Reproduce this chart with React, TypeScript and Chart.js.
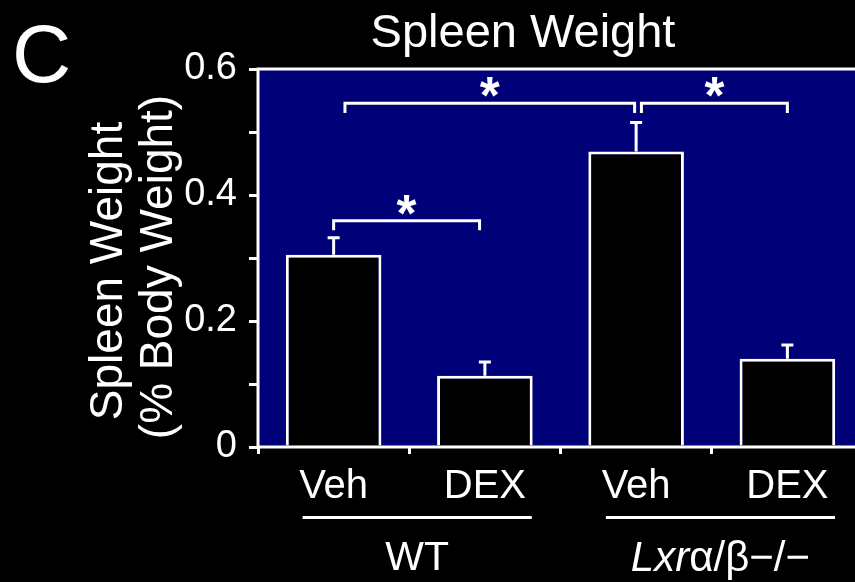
import React, { useEffect, useRef } from 'react';
import { Chart, registerables } from 'chart.js';

Chart.register(...registerables);

// ---- data ----
const categories = ['Veh', 'DEX', 'Veh', 'DEX'];
const means = [0.305, 0.113, 0.469, 0.14];
const errors = [0.027, 0.022, 0.046, 0.022];
const yTickLabels = [0, 0.2, 0.4, 0.6];
const groupLabels = ['WT', 'Lxr'];
const groupSuffix = ['', 'α/β−/−'];
// significance brackets (category positions, value levels)
const bracketFrom = [0, 0.075, 2.035];
const bracketTo = [0.965, 1.99, 3.0];
const bracketLevel = [0.359, 0.5455, 0.5455];
const bracketTip = [0.344, 0.53, 0.53];
const bracketMark = ['*', '*', '*'];

const FONT = '"Liberation Sans", Arial, Helvetica, sans-serif';
const WHITE = '#ffffff';
const PLOT_BG = '#000078';

function drawStar(ctx: CanvasRenderingContext2D, text: string, cx: number, cy: number, inkW: number) {
  ctx.font = `bold 100px ${FONT}`;
  const m = ctx.measureText(text);
  const w = m.actualBoundingBoxLeft + m.actualBoundingBoxRight;
  const size = (100 * inkW) / (w || 1);
  ctx.font = `bold ${size}px ${FONT}`;
  const m2 = ctx.measureText(text);
  const left = m2.actualBoundingBoxLeft;
  const right = m2.actualBoundingBoxRight;
  const asc = m2.actualBoundingBoxAscent;
  const desc = m2.actualBoundingBoxDescent;
  ctx.textAlign = 'left';
  ctx.textBaseline = 'alphabetic';
  ctx.fillText(text, cx - (right - left) / 2, cy + (asc - desc) / 2);
}

const overlay = {
  id: 'overlay',
  beforeDraw(chart: any) {
    const { ctx, chartArea: a } = chart;
    ctx.save();
    ctx.fillStyle = '#000';
    ctx.fillRect(0, 0, chart.width, chart.height);
    ctx.fillStyle = PLOT_BG;
    ctx.fillRect(a.left, a.top, a.right - a.left, a.bottom - a.top);
    ctx.restore();
  },
  afterDatasetsDraw(chart: any) {
    const { ctx, chartArea: a } = chart;
    const x = chart.scales.x;
    const y = chart.scales.y;
    ctx.save();
    ctx.strokeStyle = WHITE;
    ctx.fillStyle = WHITE;
    ctx.lineWidth = 3;
    ctx.lineCap = 'butt';
    // frame
    ctx.beginPath();
    ctx.moveTo(a.left, a.bottom + 1.5);
    ctx.lineTo(a.left, a.top);
    ctx.lineTo(a.right, a.top);
    ctx.moveTo(a.left - 1.5, a.bottom);
    ctx.lineTo(a.right, a.bottom);
    ctx.stroke();
    // error bars
    const meta = chart.getDatasetMeta(0);
    meta.data.forEach((bar: any, i: number) => {
      const yb = y.getPixelForValue(means[i]);
      const yt = y.getPixelForValue(means[i] + errors[i]);
      ctx.beginPath();
      ctx.moveTo(bar.x, yb);
      ctx.lineTo(bar.x, yt);
      ctx.moveTo(bar.x - 6, yt);
      ctx.lineTo(bar.x + 6, yt);
      ctx.stroke();
    });
    // brackets
    bracketFrom.forEach((f, i) => {
      const x1 = x.getPixelForValue(f);
      const x2 = x.getPixelForValue(bracketTo[i]);
      const yl = y.getPixelForValue(bracketLevel[i]);
      const yt = y.getPixelForValue(bracketTip[i]);
      ctx.beginPath();
      ctx.moveTo(x1, yt);
      ctx.lineTo(x1, yl);
      ctx.lineTo(x2, yl);
      ctx.lineTo(x2, yt);
      ctx.stroke();
      drawStar(ctx, bracketMark[i], (x1 + x2) / 2, yl - 16, 20);
    });
    ctx.restore();
  },
  afterDraw(chart: any) {
    const { ctx } = chart;
    const x = chart.scales.x;
    ctx.save();
    ctx.fillStyle = WHITE;
    ctx.strokeStyle = WHITE;
    // panel letter
    ctx.textAlign = 'left';
    ctx.textBaseline = 'alphabetic';
    ctx.font = `82px ${FONT}`;
    ctx.fillText('C', 12, 82);
    // title
    ctx.textAlign = 'center';
    ctx.font = `47px ${FONT}`;
    ctx.fillText('Spleen Weight', 523, 47);
    // y title
    ctx.font = `46px ${FONT}`;
    ctx.save();
    ctx.translate(122, 271);
    ctx.rotate(-Math.PI / 2);
    ctx.fillText('Spleen Weight', 0, 0);
    ctx.restore();
    ctx.save();
    ctx.translate(172, 267);
    ctx.rotate(-Math.PI / 2);
    ctx.fillText('(% Body Weight)', 0, 0);
    ctx.restore();
    // group underlines and labels
    const spans = [
      [-0.205, 1.31],
      [1.8, 3.315],
    ];
    ctx.lineWidth = 3;
    spans.forEach((s, g) => {
      const x1 = x.getPixelForValue(s[0]);
      const x2 = x.getPixelForValue(s[1]);
      ctx.beginPath();
      ctx.moveTo(x1, 517.5);
      ctx.lineTo(x2, 517.5);
      ctx.stroke();
      const cx = (x1 + x2) / 2;
      const main = groupLabels[g];
      const suf = groupSuffix[g];
      if (!suf) {
        ctx.textAlign = 'center';
        ctx.font = `41px ${FONT}`;
        ctx.fillText(main, cx, 570);
      } else {
        ctx.textAlign = 'left';
        ctx.font = `italic 42px ${FONT}`;
        const w1 = ctx.measureText(main).width;
        ctx.font = `42px ${FONT}`;
        const w2 = ctx.measureText(suf).width;
        const start = cx - (w1 + w2) / 2;
        ctx.font = `italic 42px ${FONT}`;
        ctx.fillText(main, start, 571);
        ctx.font = `42px ${FONT}`;
        ctx.fillText(suf, start + w1, 571);
      }
    });
    ctx.restore();
  },
};

export default function App() {
  const ref = useRef<HTMLCanvasElement | null>(null);
  useEffect(() => {
    if (!ref.current) return;
    const chart = new Chart(ref.current, {
      type: 'bar',
      data: {
        labels: categories,
        datasets: [
          {
            data: means,
            backgroundColor: '#000000',
            borderColor: WHITE,
            borderWidth: 3,
            borderSkipped: 'start',
            categoryPercentage: 1,
            barPercentage: 0.632,
          },
        ],
      },
      options: {
        animation: false,
        responsive: false,
        devicePixelRatio: 1,
        layout: { padding: { left: 0, top: 69, right: 7, bottom: 0 } },
        plugins: {
          legend: { display: false },
          tooltip: { enabled: false },
          title: { display: false },
        },
        scales: {
          x: {
            offset: true,
            ticks: {
              color: WHITE,
              font: { family: FONT, size: 40 },
              padding: 9,
              maxRotation: 0,
              autoSkip: false,
            },
            grid: {
              offset: true,
              drawOnChartArea: false,
              drawTicks: true,
              tickLength: 7,
              tickColor: WHITE,
              tickWidth: 3,
              color: WHITE,
              lineWidth: 3,
            },
            border: { display: false },
            afterFit: (s: any) => {
              s.height = 135;
            },
          },
          y: {
            min: 0,
            max: 0.6,
            ticks: {
              stepSize: 0.1,
              color: WHITE,
              font: { family: FONT, size: 38 },
              padding: 12,
              callback: (v: any) => {
                const n = Number(v);
                const hit = yTickLabels.find((t) => Math.abs(t - n) < 1e-6);
                if (hit === undefined) return '';
                return hit === 0 ? '0' : hit.toFixed(1);
              },
            },
            grid: {
              drawOnChartArea: false,
              drawTicks: true,
              tickLength: 9,
              tickColor: WHITE,
              tickWidth: 3,
              color: WHITE,
              lineWidth: 3,
            },
            border: { display: false },
            afterFit: (s: any) => {
              s.width = 258;
            },
          },
        },
      },
      plugins: [overlay],
    });
    return () => chart.destroy();
  }, []);
  return (
    <div
      style={{
        position: 'absolute',
        left: 0,
        top: 0,
        width: 855,
        height: 582,
        overflow: 'hidden',
        background: '#000',
      }}
    >
      <canvas ref={ref} width={870} height={582} style={{ display: 'block', width: 870, height: 582 }} />
    </div>
  );
}
